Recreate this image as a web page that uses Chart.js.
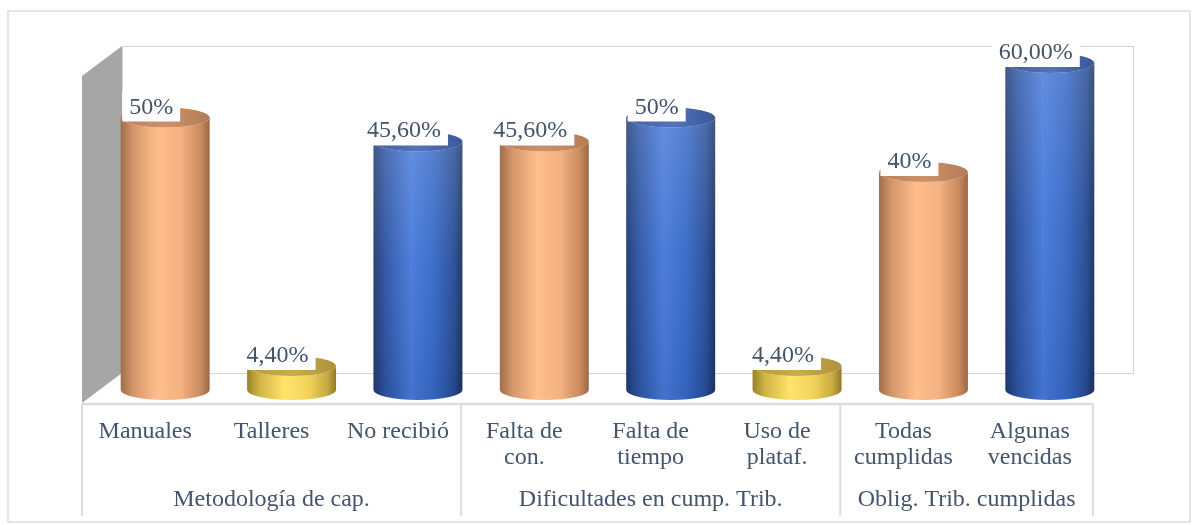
<!DOCTYPE html>
<html><head><meta charset="utf-8">
<script src="https://cdn.jsdelivr.net/npm/chart.js@4/dist/chart.umd.min.js"></script>
<style>html,body{margin:0;padding:0;background:#fff}#wrap{width:1199px;height:525px;position:relative}</style>
</head><body><div id="wrap"><canvas id="c"></canvas></div>
<script>
const categories = [['Manuales'],['Talleres'],['No recibió'],['Falta de','con.'],['Falta de','tiempo'],['Uso de','plataf.'],['Todas','cumplidas'],['Algunas','vencidas']];
const values = [50, 4.4, 45.6, 45.6, 50, 4.4, 40, 60];
const valueLabels = ['50%','4,40%','45,60%','45,60%','50%','4,40%','40%','60,00%'];
const colorKeys = ['orange','yellow','blue','orange','blue','yellow','orange','blue'];
const groups = ['Metodología de cap.','Dificultades en cump. Trib.','Oblig. Trib. cumplidas'];
const groupSizes = [3, 3, 2];
const yTicks = [0, 60];

const FONT = '24px "Liberation Serif", "Times New Roman", serif';
const TXT = '#44546A';
const BACK = {dx: 20, dy: -17}, FRONT = {dx: -20, dy: 13};
const PAL = {
  orange: {side: ['#9E6E4A','#D3966A','#FFBE8C','#F4B182','#C98A5E','#986946'], top: ['#B98058','#CC9169','#B57C55']},
  blue:   {side: ['#1E3A72','#2D55A5','#4679DA','#3668C6','#284D96','#1B3363'], top: ['#3F5EA3','#5273BC','#3A5899']},
  yellow: {side: ['#9A8028','#D1B446','#FFE36A','#F2D45C','#C8AA40','#94792A'], top: ['#B59A3E','#C8AC4E','#AD923A']}
};

const cyl = {
  id: 'cyl',
  beforeDraw(chart) {
    const ctx = chart.ctx;
    ctx.save();
    ctx.fillStyle = '#fff';
    ctx.fillRect(0, 0, chart.width, chart.height);
    ctx.strokeStyle = '#D9DEE4'; ctx.lineWidth = 1.5;
    ctx.strokeRect(8, 11, 1182, 511);
    ctx.restore();
  },
  beforeDatasetsDraw(chart) {
    const ctx = chart.ctx, xs = chart.scales.x, ys = chart.scales.y;
    const L = chart.chartArea.left, R = chart.chartArea.right;
    const y0 = ys.getPixelForValue(yTicks[0]), yMax = ys.getPixelForValue(yTicks[1]);
    ctx.save();
    // back wall
    ctx.strokeStyle = '#D4D4D4'; ctx.lineWidth = 1;
    ctx.strokeRect(L + BACK.dx + 0.5, yMax + BACK.dy + 0.5, R - L, y0 - yMax);
    // left side wall
    ctx.fillStyle = '#A6A6A6';
    ctx.beginPath();
    ctx.moveTo(L + FRONT.dx, yMax + FRONT.dy);
    ctx.lineTo(L + BACK.dx, yMax + BACK.dy);
    ctx.lineTo(L + BACK.dx, y0 + BACK.dy);
    ctx.lineTo(L + FRONT.dx, y0 + FRONT.dy);
    ctx.closePath(); ctx.fill();
    // front axis line
    ctx.strokeStyle = '#D9DDE3'; ctx.lineWidth = 2.5;
    ctx.beginPath();
    ctx.moveTo(L + FRONT.dx, y0 + FRONT.dy + 1);
    ctx.lineTo(R + FRONT.dx, y0 + FRONT.dy + 1);
    ctx.stroke();
    // group separators
    const step = (R - L) / categories.length;
    let k = 0;
    const bounds = [0];
    groupSizes.forEach(s => { k += s; bounds.push(k); });
    ctx.lineWidth = 2;
    bounds.forEach(b => {
      const x = L + FRONT.dx + b * step;
      ctx.beginPath(); ctx.moveTo(x, y0 + FRONT.dy + 1); ctx.lineTo(x, 516); ctx.stroke();
    });
    // labels
    ctx.fillStyle = TXT; ctx.font = FONT; ctx.textAlign = 'center'; ctx.textBaseline = 'middle';
    categories.forEach((lines, i) => {
      const x = xs.getPixelForValue(i) + FRONT.dx;
      lines.forEach((t, j) => ctx.fillText(t, x, 432 + j * 26));
    });
    let start = 0;
    groups.forEach((g, gi) => {
      const a = L + FRONT.dx + bounds[gi] * step, b = L + FRONT.dx + bounds[gi + 1] * step;
      ctx.fillText(g, (a + b) / 2, 500);
    });
    ctx.restore();
  },
  afterDatasetsDraw(chart) {
    const ctx = chart.ctx;
    const meta = chart.getDatasetMeta(0);
    ctx.save();
    meta.data.forEach((bar, i) => {
      const p = PAL[colorKeys[i]];
      const cx = bar.x, w = bar.width, rx = w / 2, ry = 10;
      const top = bar.y, base = bar.base;
      const l = cx - rx, r = cx + rx;
      const g = ctx.createLinearGradient(l, 0, r, 0);
      const st = [0, 0.14, 0.42, 0.68, 0.9, 1];
      st.forEach((s, j) => g.addColorStop(s, p.side[j]));
      ctx.beginPath();
      ctx.moveTo(l, top);
      ctx.lineTo(l, base);
      ctx.ellipse(cx, base, rx, ry, 0, Math.PI, 0, true);
      ctx.lineTo(r, top);
      ctx.ellipse(cx, top, rx, ry, 0, 0, Math.PI, false);
      ctx.closePath();
      ctx.fillStyle = g; ctx.fill();
      if (colorKeys[i] === 'blue') {
        const vg = ctx.createLinearGradient(0, top, 0, base);
        vg.addColorStop(0, 'rgba(255,255,255,0.16)');
        vg.addColorStop(0.5, 'rgba(255,255,255,0.04)');
        vg.addColorStop(1, 'rgba(0,0,0,0.05)');
        ctx.fillStyle = vg; ctx.fill();
      }
      const tg = ctx.createLinearGradient(l, 0, r, 0);
      tg.addColorStop(0, p.top[0]); tg.addColorStop(0.5, p.top[1]); tg.addColorStop(1, p.top[2]);
      ctx.beginPath();
      ctx.ellipse(cx, top, rx, ry, 0, 0, Math.PI * 2);
      ctx.fillStyle = tg; ctx.fill();
    });
    // value labels with white boxes
    ctx.font = FONT; ctx.textAlign = 'center'; ctx.textBaseline = 'alphabetic';
    meta.data.forEach((bar, i) => {
      const t = valueLabels[i];
      const tw = ctx.measureText(t).width;
      const cx = bar.x - 14;
      const bb = bar.y + 4;
      ctx.fillStyle = '#fff';
      ctx.fillRect(cx - tw / 2 - 7, bb - 31, tw + 14, 31);
      ctx.fillStyle = TXT;
      ctx.fillText(t, cx, bb - 8);
    });
    ctx.restore();
  }
};

new Chart(document.getElementById('c'), {
  type: 'bar',
  data: {
    labels: categories,
    datasets: [{ data: values, backgroundColor: 'rgba(0,0,0,0)', borderWidth: 0, barPercentage: 0.704, categoryPercentage: 1 }]
  },
  options: {
    responsive: true, maintainAspectRatio: false, animation: false,
    layout: { padding: { left: 102, right: 86, top: 63, bottom: 135 } },
    plugins: { legend: { display: false }, tooltip: { enabled: false } },
    scales: {
      x: { display: false },
      y: { display: false, min: yTicks[0], max: yTicks[1] }
    }
  },
  plugins: [cyl]
});
</script>
</body></html>
